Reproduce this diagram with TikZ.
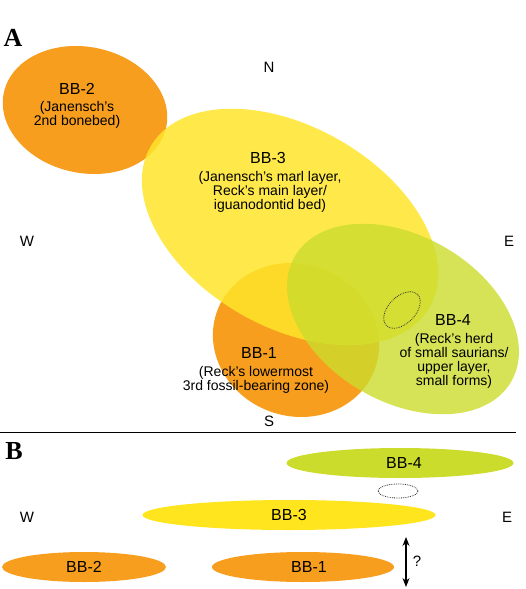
\documentclass[tikz,border=0pt]{standalone}
\usepackage{fontspec}
\setmainfont{Liberation Sans}
\newfontfamily\panelfont{Liberation Serif}
\usetikzlibrary{shapes.geometric,arrows.meta}
\definecolor{bborange}{HTML}{F79E1E}
\definecolor{bbyellow}{HTML}{FFE52A}
\definecolor{bbyellowB}{HTML}{FFE51E}
\definecolor{bblime}{HTML}{CCDC2C}
\tikzset{
  blob/.style={ellipse, draw=none, inner sep=0pt},
  lbl/.style={font=\fontsize{16}{18}\selectfont, inner sep=0pt},
  sub/.style={font=\fontsize{14}{14}\selectfont, align=center, inner sep=0pt},
  compass/.style={font=\fontsize{15}{17}\selectfont, inner sep=0pt},
  panel/.style={font=\panelfont\bfseries\fontsize{26}{26}\selectfont, inner sep=0pt},
  dotring/.style={ellipse, draw=black!80, densely dotted, line width=0.8pt, inner sep=0pt},
}
\begin{document}
\begin{tikzpicture}[x=1pt,y=-1pt]
\useasboundingbox (0,0) rectangle (526,589);
% ---------------- Panel A ----------------
\node[panel] (pA) at (13,38) {A};
\node[blob, fill=bborange, minimum width=166pt, minimum height=126pt, rotate=-12] (bb2) at (85,110) {};
\node[blob, fill=bborange, minimum width=168pt, minimum height=152pt, rotate=-20] (bb1) at (296,340) {};
\node[blob, fill=bbyellow, fill opacity=0.85, minimum width=322pt, minimum height=200pt, rotate=-30] (bb3) at (290,227) {};
\node[blob, fill=bblime, fill opacity=0.8, minimum width=250pt, minimum height=166pt, rotate=-30] (bb4) at (403,319) {};
\node[dotring, minimum width=44pt, minimum height=27pt, rotate=45] (ringA) at (402,310) {};

\node[lbl] (t2) at (77,89) {BB-2};
\node[sub] (s2) at (77,115) {(Janensch's\\2nd bonebed)};
\node[lbl] (t3) at (268,158) {BB-3};
\node[sub] (s3) at (270,192) {(Janensch's marl layer,\\Reck's main layer/\\iguanodontid bed)};
\node[lbl] (t1) at (259,353) {BB-1};
\node[sub] (s1) at (256,380) {(Reck's lowermost\\3rd fossil-bearing zone)};
\node[lbl] (t4) at (453,320) {BB-4};
\node[sub] (s4) at (454,361) {(Reck's herd\\of small saurians/\\upper layer,\\small forms)};

\node[compass] (nN) at (269,67) {N};
\node[compass] (nW) at (27,241) {W};
\node[compass] (nE) at (509,241) {E};
\node[compass] (nS) at (269,421) {S};

\coordinate (divL) at (0,432);
\coordinate (divR) at (516,432);
\draw[line width=0.8pt] (divL) -- (divR);

% ---------------- Panel B ----------------
\node[panel] (pB) at (14,451) {B};
\node[blob, fill=bblime, minimum width=227pt, minimum height=30pt] (b4) at (400,463) {};
\node[lbl] at (b4) [xshift=4pt] {BB-4};
\node[dotring, minimum width=40pt, minimum height=14pt] (ringB) at (398,491) {};
\node[blob, fill=bbyellowB, minimum width=293pt, minimum height=30pt] (b3) at (289,515) {};
\node[lbl] at (b3) {BB-3};
\node[blob, fill=bborange, minimum width=164pt, minimum height=30pt] (b2) at (84,567) {};
\node[lbl] at (b2) {BB-2};
\node[blob, fill=bborange, minimum width=182pt, minimum height=30pt] (b1) at (303,567) {};
\node[lbl] at (b1) [xshift=6pt] {BB-1};
\node[compass] (bW) at (27,517) {W};
\node[compass] (bE) at (507,517) {E};

\coordinate (arT) at (406,537);
\coordinate (arB) at (406,587);
\draw[line width=1.1pt, {Stealth[length=9pt,width=7pt]}-{Stealth[length=9pt,width=7pt]}] (arT) -- (arB);
\node[compass] (q) at (417,561) {?};
\end{tikzpicture}
\end{document}
